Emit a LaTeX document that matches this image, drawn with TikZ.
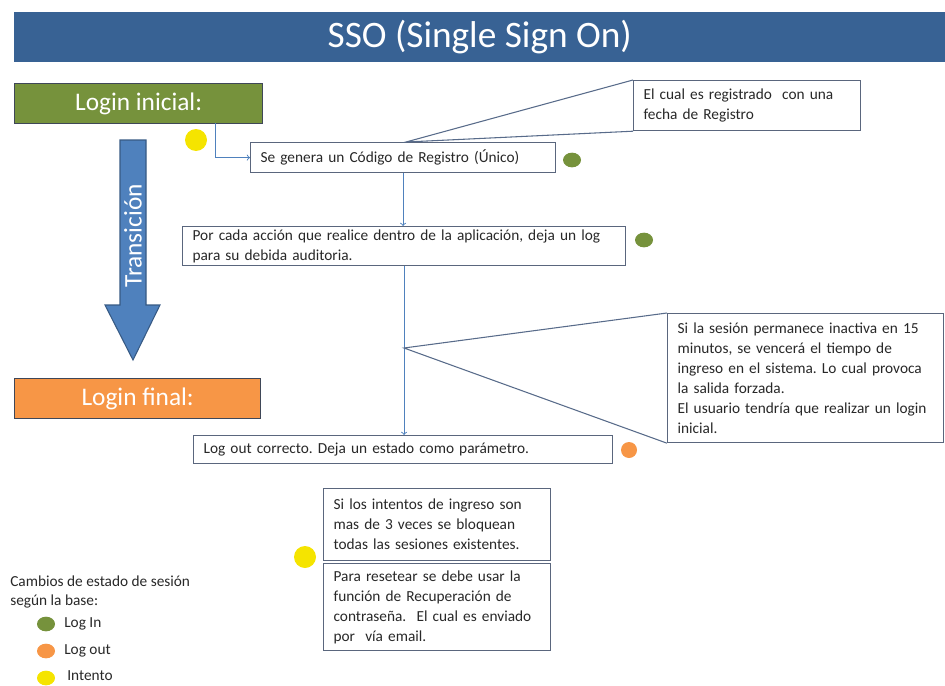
\documentclass[tikz,border=0pt]{standalone}
\usepackage{fontspec}
\setmainfont{Carlito}
\usetikzlibrary{shapes.geometric}
\definecolor{azultitulo}{RGB}{56,98,148}
\definecolor{verdelog}{RGB}{118,146,60}
\definecolor{naranja}{RGB}{247,150,70}
\definecolor{amarillo}{RGB}{245,228,0}
\definecolor{azulflecha}{RGB}{79,129,189}
\definecolor{borde}{RGB}{90,102,125}
\definecolor{texto}{RGB}{40,40,40}
\frenchspacing
\hyphenpenalty=10000
\begin{document}
\begin{tikzpicture}[x=.75pt,y=-.75pt,
    caja/.style={draw=borde, line width=.9pt, fill=white, anchor=north west, inner xsep=7.5pt, inner ysep=0pt, align=left, text=texto, font=\fontsize{11.5}{15}\selectfont},
    etapa/.style={draw=borde!70!black, line width=1pt, anchor=north west, text=white, font=\fontsize{19}{22}\selectfont},
    conector/.style={draw=azulflecha, line width=.7pt},
    globo/.style={draw=borde!80!azulflecha, line width=.8pt},
    punto/.style={ellipse, inner sep=0pt, minimum width=13.5pt, minimum height=11pt}]
    \useasboundingbox (0,0) rectangle (945,685);
    % titulo
    \node [fill=azultitulo, anchor=north west, minimum width=698.25pt, minimum height=37.5pt, text=white, font=\fontsize{28}{32}\selectfont] (titulo) at (14,12) {SSO (Single Sign On)};
    % etapas
    \node [etapa, fill=verdelog, minimum width=186pt, minimum height=30pt] (lini) at (14,83) {Login inicial:};
    \node [etapa, fill=naranja, minimum width=184.5pt, minimum height=30pt] (lfin) at (14,378) {Login final:};
    \filldraw [fill=azulflecha, draw=azulflecha!70!black, line width=.8pt] (120,140) -- (146,140) -- (146,305) -- (160,305) -- (133,360) -- (105,305) -- (120,305) -- cycle;
    \node [rotate=90, text=white, font=\fontsize{19}{22}\selectfont] (trans) at (133,236) {Transición};
    % cajas
    \node [caja, text width=213.75pt, minimum height=22.5pt] (codigo) at (250,142) {Se genera un Código de Registro (Único)};
    \node [caja, text width=317.25pt, minimum height=29.25pt] (accion) at (182,226) {Por cada acción que realice dentro de la aplicación, deja un log\\para su debida auditoria.};
    \node [caja, text width=299.25pt, minimum height=21pt] (logout) at (193,435) {Log out correcto. Deja un estado como parámetro.};
    \node [caja, text width=155.25pt, minimum height=37.5pt] (fecha) at (633,80) {El cual es registrado\ \ con una\\fecha de Registro};
    \node [caja, text width=192pt, minimum height=96.75pt] (inactiva) at (667,313) {Si la sesión permanece inactiva en 15\\minutos, se vencerá el tiempo de\\ingreso en el sistema. Lo cual provoca\\la salida forzada.\\El usuario tendría que realizar un login\\inicial.};
    \node [caja, text width=155.25pt, minimum height=54pt] (intentos) at (323,488) {Si los intentos de ingreso son\\mas de 3 veces se bloquean\\todas las sesiones existentes.};
    \node [caja, text width=155.25pt, minimum height=65.25pt] (resetear) at (323,563) {Para resetear se debe usar la\\función de Recuperación de\\contraseña.\ \ El cual es enviado\\por\ \ vía email.};
    % conectores
    \coordinate (salida) at (215,123);
    \draw [conector, ->] (salida) |- (codigo.west);
    \draw [conector, ->] (codigo.south) -- (codigo.south |- accion.north);
    \draw [conector, ->] (accion.south) -- (accion.south |- logout.north);
    \coordinate (pico1) at (406,142);
    \draw [globo] (fecha.north west) -- (pico1) -- (fecha.south west);
    \coordinate (pico2) at (404,348);
    \draw [globo] (inactiva.north west) -- (pico2) -- (inactiva.south west);
    % puntos
    \node [punto, fill=amarillo, minimum width=16.5pt, minimum height=16.5pt] (p1) at (196,140) {};
    \node [punto, fill=verdelog] (p2) at (572,160) {};
    \node [punto, fill=verdelog] (p3) at (644,240) {};
    \node [punto, fill=naranja, minimum width=12pt, minimum height=12pt] (p4) at (629,450) {};
    \node [punto, fill=amarillo, minimum width=16.5pt, minimum height=16.5pt] (p5) at (305,557) {};
    % leyenda
    \node [anchor=west, align=left, text=texto, font=\fontsize{11.5}{14}\selectfont, inner sep=0pt] (leyenda) at (10,592) {Cambios de estado de sesión\\según la base:};
    \node [punto, fill=verdelog] (l1) at (46,624) {};
    \node [anchor=west, text=texto, font=\fontsize{11.5}{14}\selectfont, inner sep=0pt] (t1) at (64,624) {Log In};
    \node [punto, fill=naranja] (l2) at (46,651) {};
    \node [anchor=west, text=texto, font=\fontsize{11.5}{14}\selectfont, inner sep=0pt] (t2) at (64,651) {Log out};
    \node [punto, fill=amarillo] (l3) at (46,678) {};
    \node [anchor=west, text=texto, font=\fontsize{11.5}{14}\selectfont, inner sep=0pt] (t3) at (67,676) {Intento};
\end{tikzpicture}
\end{document}
